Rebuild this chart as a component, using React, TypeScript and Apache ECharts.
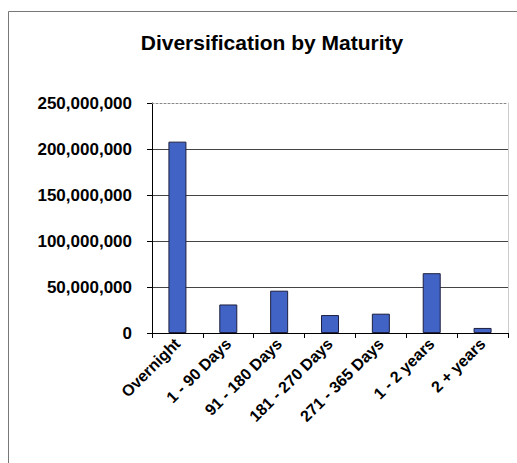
import React, { useEffect, useRef } from "react";
import * as echarts from "echarts";

const categories = [
  "Overnight",
  "1 - 90 Days",
  "91 - 180 Days",
  "181 - 270 Days",
  "271 - 365 Days",
  "1 - 2 years",
  "2 + years",
];
const values = [208000000, 31000000, 46000000, 19500000, 21000000, 65000000, 5500000];
const titleText = "Diversification by Maturity";

const FONT = "'Liberation Sans', Arial, sans-serif";

export default function App() {
  const ref = useRef<HTMLDivElement>(null);
  useEffect(() => {
    document.body.style.margin = "0";
    const chart = echarts.init(ref.current!, null, { renderer: "svg" });
    chart.setOption({
      animation: false,
      backgroundColor: "#ffffff",
      title: {
        text: titleText,
        left: 267,
        top: 27,
        textAlign: "center",
        textStyle: { fontFamily: FONT, fontWeight: "bold", fontSize: 21, color: "#000" },
      },
      graphic: [
        {
          type: "rect",
          shape: { x: 8.5, y: 11.5, width: 620, height: 620 },
          style: { fill: "none", stroke: "#777", lineWidth: 1 },
          silent: true,
        },
      ],
      grid: { left: 152, right: 9, top: 103, bottom: 130, containLabel: false },
      xAxis: [
        {
          type: "category",
          data: categories,
          axisLine: { lineStyle: { color: "#000", width: 1 } },
          axisTick: { show: true, length: 5, lineStyle: { color: "#000" } },
          axisLabel: {
            rotate: 45,
            interval: 0,
            margin: 8,
            fontFamily: FONT,
            fontWeight: "bold",
            fontSize: 16,
            color: "#000",
          },
        },
        {
          type: "category",
          position: "top",
          data: categories,
          axisLine: { show: true, onZero: false, lineStyle: { color: "#888", width: 1, type: [2, 2] } },
          axisTick: { show: false },
          axisLabel: { show: false },
        },
      ],
      yAxis: [
        {
          type: "value",
          min: 0,
          max: 250000000,
          interval: 50000000,
          axisLine: { show: true, lineStyle: { color: "#000", width: 1 } },
          axisTick: { show: true, length: 5, lineStyle: { color: "#000" } },
          axisLabel: {
            margin: 20,
            fontFamily: FONT,
            fontWeight: "bold",
            fontSize: 17,
            color: "#000",
            formatter: (v: number) => v.toLocaleString("en-US"),
          },
          splitLine: {
            show: true,
            lineStyle: {
              color: ["#444", "#444", "#444", "#444", "#444", "transparent"],
              width: 1,
            },
          },
        },
        {
          type: "value",
          position: "right",
          min: 0,
          max: 250000000,
          interval: 50000000,
          axisLine: { show: true, onZero: false, lineStyle: { color: "#ccc", width: 1 } },
          axisTick: { show: false },
          axisLabel: { show: false },
          splitLine: { show: false },
        },
      ],
      series: [
        {
          type: "bar",
          data: values,
          barWidth: 18,
          itemStyle: { color: "#4163c6", borderColor: "#1c1f3f", borderWidth: 1 },
        },
      ],
    });
    return () => chart.dispose();
  }, []);
  return (
    <div
      ref={ref}
      style={{ width: 517, height: 463, position: "absolute", left: 0, top: 0 }}
    />
  );
}
